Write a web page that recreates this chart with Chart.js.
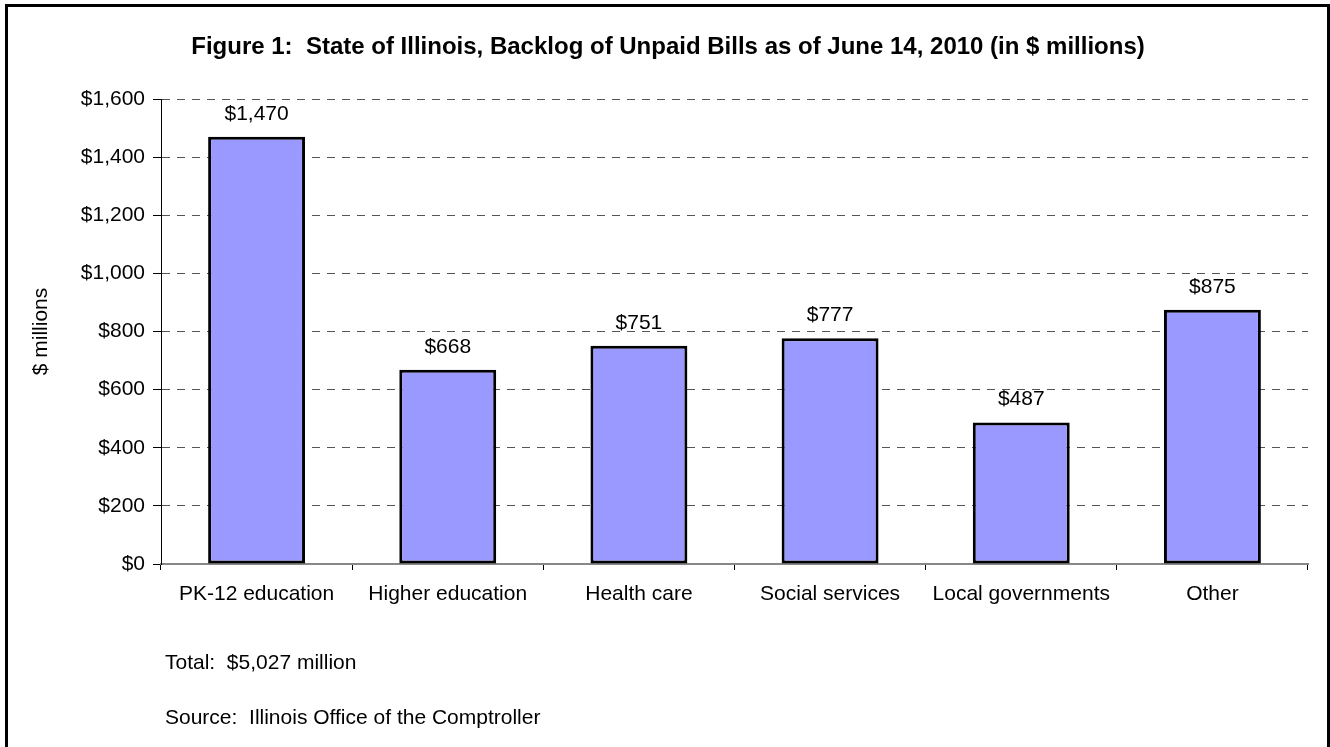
<!DOCTYPE html>
<html>
<head>
<meta charset="utf-8">
<script src="https://cdn.jsdelivr.net/npm/chart.js@4/dist/chart.umd.min.js"></script>
<style>
  html, body { margin: 0; padding: 0; background: #fff; overflow: hidden; }
  #wrap { position: relative; width: 1330px; height: 747px; }
  #frame { position: absolute; left: 5px; top: 4px; width: 1325px; height: 800px; border: 3px solid #000; box-sizing: border-box; pointer-events: none; }
</style>
</head>
<body>
<div id="wrap">
  <canvas id="c" width="1330" height="747"></canvas>
  <div id="frame"></div>
</div>
<script>
const categories = ['PK-12 education', 'Higher education', 'Health care', 'Social services', 'Local governments', 'Other'];
const backlogValues = [1470, 668, 751, 777, 487, 875];
const yTicks = [0, 200, 400, 600, 800, 1000, 1200, 1400, 1600];
const titleText = 'Figure 1:  State of Illinois, Backlog of Unpaid Bills as of June 14, 2010 (in $ millions)';
const yAxisTitle = '$ millions';
const footerLines = ['Total:  $5,027 million', 'Source:  Illinois Office of the Comptroller'];

const FONT = "'Liberation Sans', Arial, sans-serif";
const fmt = v => '$' + v.toLocaleString('en-US');

const textPlugin = {
  id: 'textPlugin',
  afterDatasetsDraw(chart) {
    const ctx = chart.ctx;
    ctx.save();
    ctx.fillStyle = '#000';
    ctx.textAlign = 'center';
    ctx.textBaseline = 'middle';
    ctx.font = '21px ' + FONT;
    const meta = chart.getDatasetMeta(0);
    meta.data.forEach((bar, i) => {
      ctx.fillText(fmt(backlogValues[i]), bar.x, bar.y - 23);
    });
    ctx.restore();
  },
  afterDraw(chart) {
    const ctx = chart.ctx;
    ctx.save();
    ctx.fillStyle = '#000';
    ctx.textBaseline = 'middle';
    ctx.font = 'bold 24px ' + FONT;
    ctx.textAlign = 'center';
    ctx.fillText(titleText, 668, 47);
    ctx.font = '21px ' + FONT;
    ctx.textAlign = 'left';
    ctx.fillText(footerLines[0], 165, 663);
    ctx.fillText(footerLines[1], 165, 718);
    ctx.restore();
  }
};

new Chart(document.getElementById('c'), {
  type: 'bar',
  data: {
    labels: categories,
    datasets: [{
      data: backlogValues,
      backgroundColor: '#9999FF',
      borderColor: '#000',
      borderWidth: 3,
      borderSkipped: false,
      barPercentage: 0.507,
      categoryPercentage: 1.0
    }]
  },
  options: {
    responsive: false,
    animation: false,
    devicePixelRatio: 1,
    layout: { padding: { left: 0, right: 22, top: 99, bottom: 0 } },
    plugins: {
      legend: { display: false },
      title: { display: false },
      tooltip: { enabled: false }
    },
    scales: {
      x: {
        afterFit(scale) { scale.height = 183; },
        grid: {
          display: true,
          drawOnChartArea: false,
          drawTicks: true,
          tickLength: 6,
          tickColor: '#000',
          color: '#000',
          offset: true
        },
        border: { display: true, color: '#888', width: 2 },
        ticks: {
          color: '#000',
          font: { family: FONT, size: 21 },
          padding: 12,
          maxRotation: 0,
          autoSkip: false
        }
      },
      y: {
        min: 0,
        max: 1600,
        afterFit(scale) { scale.width = 161; },
        afterBuildTicks(scale) { scale.ticks = yTicks.map(v => ({ value: v })); },
        grid: {
          color: '#555',
          lineWidth: 1,
          drawTicks: true,
          tickLength: 8,
          tickColor: '#000',
          tickBorderDash: []
        },
        border: { display: true, color: '#000', width: 1, dash: [8, 7] },
        ticks: {
          color: '#000',
          font: { family: FONT, size: 21 },
          padding: 8,
          callback: v => fmt(v)
        },
        title: {
          display: true,
          text: yAxisTitle,
          color: '#000',
          font: { family: FONT, size: 21 },
          padding: { top: 29, bottom: 0 }
        }
      }
    }
  },
  plugins: [textPlugin]
});
</script>
</body>
</html>
